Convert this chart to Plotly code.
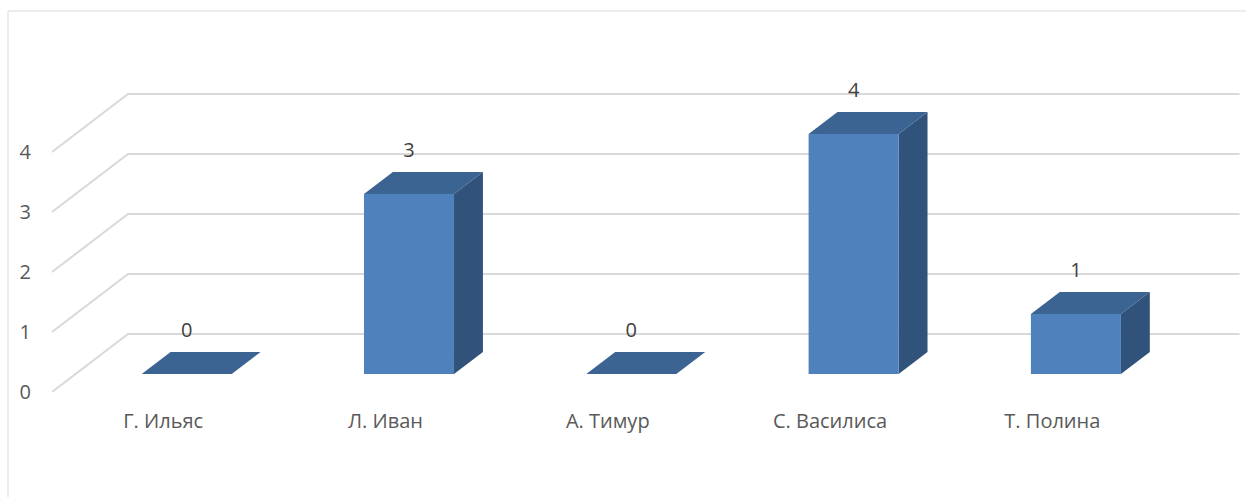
import plotly.graph_objects as go

# ---- data ----
students = ["Г. Ильяс", "Л. Иван", "А. Тимур", "С. Василиса", "Т. Полина"]
scores = [0, 3, 0, 4, 1]
y_ticks = [0, 1, 2, 3, 4]

# ---- pseudo-3D projection (oblique) ----
KX = 0.342      # horizontal shift (category units) for full depth
KY = 0.967      # vertical shift (value units) for full depth
Z_FRONT = 0.31  # depth of bar front face
Z_BACK = 0.69   # depth of bar back face
BAR_W = 0.405   # bar width in category units

FRONT_COLOR = "#4f81bd"
TOP_COLOR = "#3c6492"
SIDE_COLOR = "#31527b"
GRID_COLOR = "#d9d9d9"
TEXT_COLOR = "#595959"
FONT = "Open Sans"
FONT_SIZE = 20


def proj(x, v, z):
    return x + z * KX, v + z * KY


fig = go.Figure()

# back-wall + side-wall gridlines
gx, gy = [], []
n_cat = len(students)
for t in y_ticks:
    for (x, z) in [(0, 0), (0, 1), (n_cat, 1)]:
        px, py = proj(x, t, z)
        gx.append(px)
        gy.append(py)
    gx.append(None)
    gy.append(None)
fig.add_trace(go.Scatter(x=gx, y=gy, mode="lines",
                         line=dict(color=GRID_COLOR, width=2),
                         hoverinfo="skip", showlegend=False))


def add_faces(face_fn, color):
    xs, ys = [], []
    for i, v in enumerate(scores):
        for (px, py) in face_fn(i, v):
            xs.append(px)
            ys.append(py)
        xs.append(None)
        ys.append(None)
    fig.add_trace(go.Scatter(x=xs, y=ys, mode="lines", fill="toself",
                             fillcolor=color, line=dict(width=0, color=color),
                             hoverinfo="skip", showlegend=False))


def front_face(i, v):
    xl = i + 0.5 - BAR_W / 2
    xr = i + 0.5 + BAR_W / 2
    return [proj(xl, 0, Z_FRONT), proj(xr, 0, Z_FRONT),
            proj(xr, v, Z_FRONT), proj(xl, v, Z_FRONT)]


def top_face(i, v):
    xl = i + 0.5 - BAR_W / 2
    xr = i + 0.5 + BAR_W / 2
    return [proj(xl, v, Z_FRONT), proj(xr, v, Z_FRONT),
            proj(xr, v, Z_BACK), proj(xl, v, Z_BACK)]


def side_face(i, v):
    xr = i + 0.5 + BAR_W / 2
    return [proj(xr, 0, Z_FRONT), proj(xr, v, Z_FRONT),
            proj(xr, v, Z_BACK), proj(xr, 0, Z_BACK)]


add_faces(side_face, SIDE_COLOR)
add_faces(front_face, FRONT_COLOR)
add_faces(top_face, TOP_COLOR)

# value labels above each bar
lx = [i + 0.5 + Z_FRONT * KX for i in range(n_cat)]
ly = [v + Z_BACK * KY + 0.34 for v in scores]
fig.add_trace(go.Scatter(x=lx, y=ly, mode="text", text=[str(v) for v in scores],
                         textposition="middle center",
                         textfont=dict(family=FONT, size=FONT_SIZE, color="#404040"),
                         hoverinfo="skip", showlegend=False))

W, H = 1246, 497
ML, MR, MT, MB = 52, 4, 11, 105
plot_w = W - ML - MR
x_unit = 222.3
y_unit = 60.0

fig.update_layout(
    width=W, height=H,
    margin=dict(l=ML, r=MR, t=MT, b=MB),
    paper_bgcolor="white", plot_bgcolor="white",
    xaxis=dict(range=[0, plot_w / x_unit],
               tickvals=[i + 0.5 for i in range(n_cat)], ticktext=students,
               showgrid=False, zeroline=False, showline=False, ticks="",
               ticklabelstandoff=15,
               tickfont=dict(family=FONT, size=FONT_SIZE, color=TEXT_COLOR)),
    yaxis=dict(range=[0, (H - MT - MB) / y_unit],
               tickvals=y_ticks, ticktext=[str(t) for t in y_ticks],
               showgrid=False, zeroline=False, showline=False, ticks="",
               ticklabelstandoff=20,
               tickfont=dict(family=FONT, size=FONT_SIZE, color=TEXT_COLOR)),
    shapes=[dict(type="rect", xref="paper", yref="paper",
                 x0=(8 - ML) / plot_w, x1=(W + 20 - ML) / plot_w,
                 y0=-(MB + 20) / (H - MT - MB), y1=1,
                 line=dict(color=GRID_COLOR, width=1), fillcolor="rgba(0,0,0,0)",
                 layer="below")],
)

fig.write_html("out.html")
